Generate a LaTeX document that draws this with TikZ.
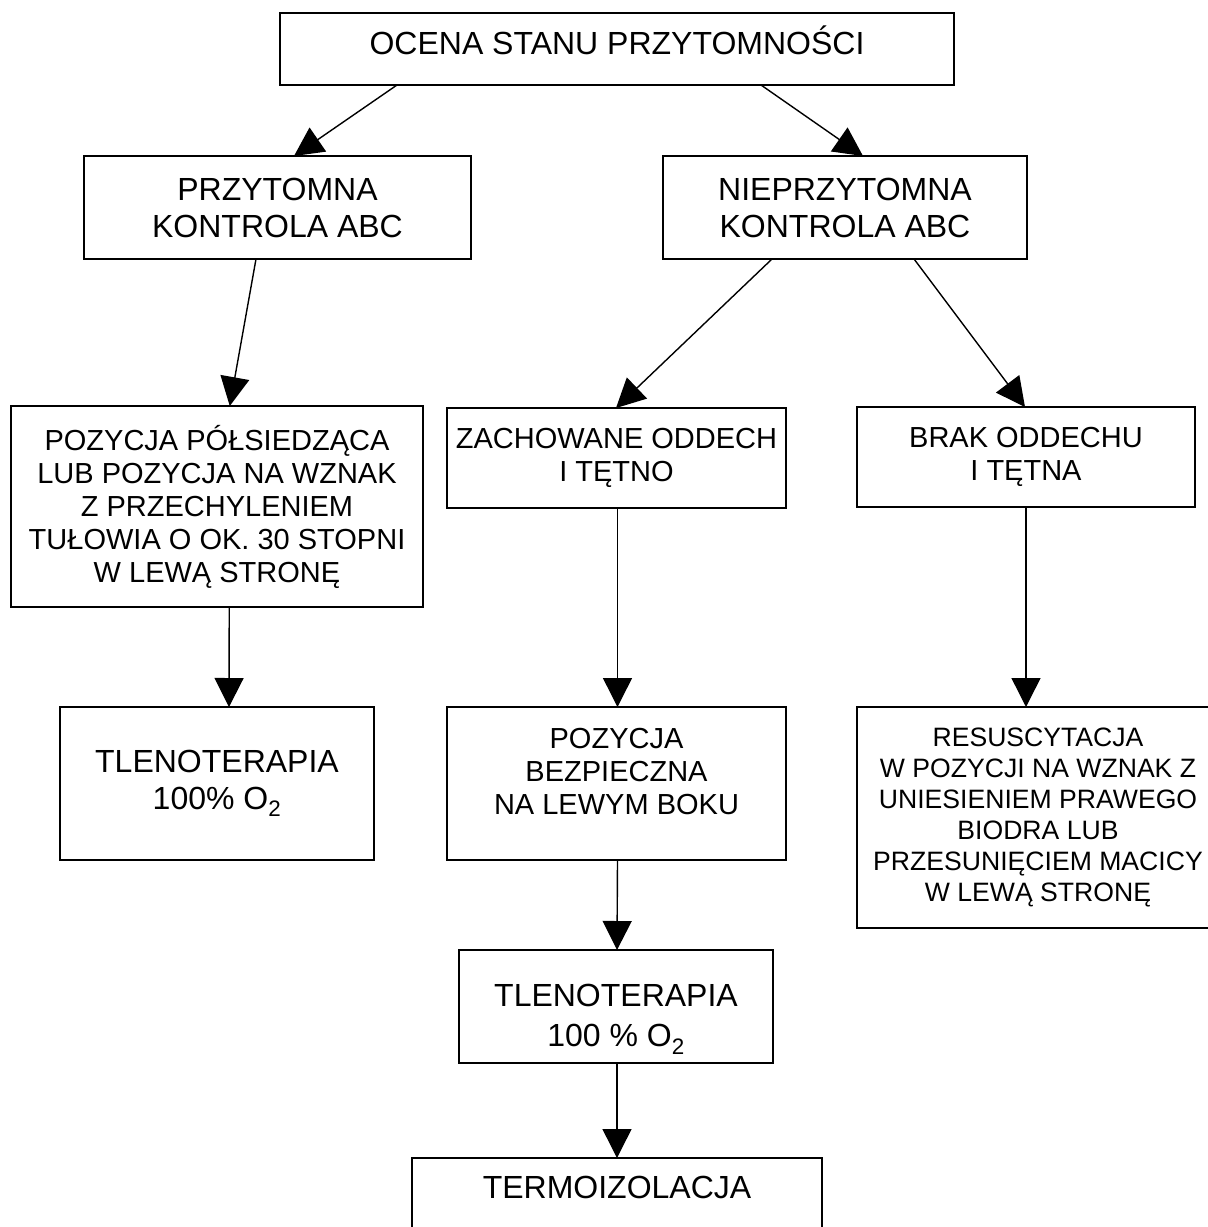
\documentclass[tikz,border=0pt]{standalone}
\usepackage{fontspec}
\setmainfont{Liberation Sans}
\usetikzlibrary{arrows.meta}
\tikzset{
  box/.style={draw, line width=1.6pt, inner sep=0pt, outer sep=0pt, align=center, fill=white},
  big/.style={font=\fontsize{32}{37}\selectfont},
  mid/.style={font=\fontsize{29}{33}\selectfont},
  small/.style={font=\fontsize{26.6}{31}\selectfont},
  arr/.style={line width=1.4pt, -{Triangle[length=29pt,width=29pt]}},
}
\begin{document}
\begin{tikzpicture}[x=1pt,y=-1pt]
\fill[white] (0,0) rectangle (1208,1227);
\useasboundingbox (0,0) rectangle (1208,1227);

\node[box,big,minimum width=674pt,minimum height=72pt] (b1) at (617,49) {OCENA STANU PRZYTOMNOŚCI\\[-20pt]};
\node[box,big,minimum width=387pt,minimum height=103pt] (b2) at (277.5,207.5) {PRZYTOMNA\\KONTROLA ABC};
\node[box,big,minimum width=364pt,minimum height=103pt] (b3) at (845,207.5) {NIEPRZYTOMNA\\KONTROLA ABC};
\node[box,mid,minimum width=411.5pt,minimum height=201pt] (b4) at (217,506.5) {POZYCJA PÓŁSIEDZĄCA\\LUB POZYCJA NA WZNAK\\Z PRZECHYLENIEM\\TUŁOWIA O OK. 30 STOPNI\\W LEWĄ STRONĘ};
\node[box,mid,minimum width=339pt,minimum height=100pt] (b5) at (616.5,458) {ZACHOWANE ODDECH\\I TĘTNO};
\node[box,mid,minimum width=338pt,minimum height=100pt] (b6) at (1026,457) {BRAK ODDECHU\\I TĘTNA};
\node[box,big,minimum width=314pt,minimum height=153pt] (b7) at (217,783.5) {TLENOTERAPIA\\100\% O\textsubscript{2}};
\node[box,mid,minimum width=339pt,minimum height=153pt] (b8) at (616.5,783.5) {POZYCJA\\BEZPIECZNA\\NA LEWYM BOKU\\[-8pt]};
\node[box,small,minimum width=362pt,minimum height=221pt] (b9) at (1038,817.5) {RESUSCYTACJA\\W POZYCJI NA WZNAK Z\\UNIESIENIEM PRAWEGO\\BIODRA LUB\\PRZESUNIĘCIEM MACICY\\W LEWĄ STRONĘ};
\node[box,font=\fontsize{32}{40}\selectfont,minimum width=314pt,minimum height=113pt] (b10) at (616,1006.5) {\rule{0pt}{48pt}TLENOTERAPIA\\100 \% O\textsubscript{2}};
\node[box,minimum width=410pt,minimum height=102pt] (b11) at (617,1209) {};
\node[big,inner sep=0pt] (t11) at (617,1187) {TERMOIZOLACJA};

\draw[arr] ([xshift=117pt]b1.south west) -- ([xshift=210pt]b2.north west);
\draw[arr] ([xshift=481pt]b1.south west) -- ([xshift=200pt]b3.north west);
\draw[arr] ([xshift=172pt]b2.south west) -- ([xshift=218.5pt]b4.north west);
\draw[arr] ([xshift=109pt]b3.south west) -- ([xshift=169pt]b5.north west);
\draw[arr] ([xshift=251pt]b3.south west) -- ([xshift=168pt]b6.north west);
\draw[arr] ([xshift=218pt]b4.south west) -- ([xshift=169pt]b7.north west);
\draw[arr] ([xshift=170.5pt]b5.south west) -- ([xshift=170.5pt]b8.north west);
\draw[arr] ([xshift=169pt]b6.south west) -- ([xshift=169pt]b9.north west);
\draw[arr] ([xshift=170.5pt]b8.south west) -- ([xshift=158pt]b10.north west);
\draw[arr] ([xshift=158pt]b10.south west) -- ([xshift=205pt]b11.north west);
\end{tikzpicture}
\end{document}
